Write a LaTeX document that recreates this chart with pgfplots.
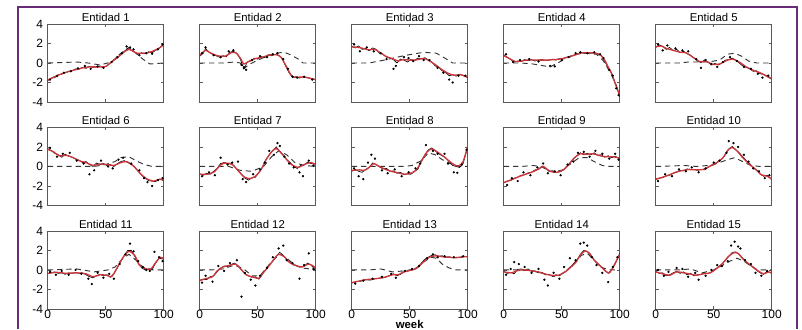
\documentclass[border=0pt]{standalone}
\usepackage{pgfplots}
\pgfplotsset{compat=1.18}
\usepgfplotslibrary{groupplots}
\usetikzlibrary{calc}
\usepackage{fontspec}
\setmainfont{Liberation Sans}
\definecolor{fitred}{RGB}{205,55,60}
\definecolor{framecol}{RGB}{105,45,120}
\pgfplotsset{
  dsh/.style={no markers, black!80, line width=0.7pt, dash pattern=on 4pt off 3pt},
  dts/.style={only marks, mark=*, mark size=0.65pt, mark options={fill=black, draw=black}},
  blk/.style={no markers, black, line width=0.5pt},
  rd/.style={no markers, fitred, line width=1pt, smooth, tension=0.45},
}
\begin{document}
\begin{tikzpicture}
\begin{groupplot}[
  group style={group size=5 by 3, horizontal sep=27pt, vertical sep=19.1pt,
    xticklabels at=edge bottom, yticklabels at=edge left},
  scale only axis, width=87pt, height=58.5pt,
  xmin=0, xmax=100, ymin=-4, ymax=4,
  xtick={0,50,100}, ytick={-4,-2,0,2,4},
  tick align=inside, major tick length=2.2pt,
  axis line style={black!65, line width=0.5pt},
  every tick/.style={black!65, line width=0.4pt},
  tick label style={font=\fontsize{9}{10}\selectfont, /pgf/number format/assume math mode=true},
  xticklabel style={inner sep=0.6pt},
  title style={font=\fontsize{8.5}{10}\selectfont, yshift=-7.5pt},
  clip=true,
]
% ---------- 1
\nextgroupplot[title={Entidad 1}]
\addplot[dsh] coordinates {(0,0)(25,0.1)(35,0)(45,-0.2)(55,0.1)(62,0.9)(70,1.6)(75,1.1)(82,0.4)(88,-0.1)(100,0)};
\addplot[dts] coordinates {(2,-1.7)(8,-1.35)(14,-1.0)(20,-0.85)(26,-0.55)(32,-0.3)(37,-0.6)(43,-0.35)(48,-0.5)(55,0.1)(60,0.6)(64,1.0)(68,1.7)(71,1.6)(74,1.4)(79,0.8)(85,1.0)(90,0.95)(95,1.4)(99,1.9)};
\addplot[blk] coordinates {(0,-1.8)(3,-1.55)(6,-1.5)(9,-1.2)(12,-1.15)(15,-1.0)(18,-0.85)(21,-0.8)(24,-0.6)(27,-0.65)(30,-0.45)(33,-0.55)(36,-0.35)(39,-0.45)(42,-0.4)(45,-0.3)(48,-0.45)(51,-0.3)(54,0.0)(57,0.3)(60,0.5)(63,0.9)(66,1.2)(69,1.5)(72,1.3)(75,1.1)(78,0.9)(81,1.05)(84,0.95)(87,1.15)(90,1.05)(93,1.3)(96,1.5)(100,1.95)};
\addplot[rd] coordinates {(0,-1.75)(5,-1.45)(10,-1.2)(16,-0.95)(22,-0.75)(30,-0.5)(36,-0.4)(45,-0.4)(50,-0.35)(56,0.2)(62,0.75)(66,1.15)(70,1.4)(73,1.25)(77,1.0)(82,1.0)(88,1.1)(93,1.35)(97,1.6)(100,1.9)};
% ---------- 2
\nextgroupplot[title={Entidad 2}]
\addplot[dsh] coordinates {(0,0)(20,0)(30,0.1)(35,0)(38,-0.6)(42,-0.2)(50,0.3)(60,0.8)(65,1.0)(73,1.1)(79,0.8)(85,0.4)(89,0)(100,0)};
\addplot[dts] coordinates {(2,1.0)(5,1.6)(12,0.8)(18,0.6)(25,1.2)(29,1.3)(36,-0.2)(38,-0.5)(40,-0.7)(45,0.3)(52,0.7)(58,0.6)(63,0.9)(67,1.0)(72,0.4)(76,-0.6)(80,-1.4)(84,-1.5)(90,-1.4)(97,-1.7)};
\addplot[blk] coordinates {(0,0.7)(3,1.0)(5,1.5)(8,1.1)(11,0.9)(14,0.75)(17,0.6)(20,0.75)(23,0.65)(26,1.1)(29,1.2)(32,1.0)(35,0.4)(37,-0.3)(39,-0.4)(41,0.1)(44,0.2)(47,0.5)(50,0.4)(53,0.65)(56,0.55)(59,0.85)(62,0.75)(65,0.9)(68,0.8)(71,0.5)(74,-0.3)(77,-1.0)(80,-1.5)(83,-1.4)(86,-1.55)(89,-1.4)(92,-1.5)(95,-1.55)(98,-1.65)(100,-1.75)};
\addplot[rd] coordinates {(0,0.8)(5,1.3)(9,1.05)(15,0.75)(22,0.7)(27,1.05)(31,1.05)(35,0.5)(38,-0.1)(42,0.15)(48,0.45)(54,0.6)(60,0.8)(66,0.85)(70,0.6)(74,-0.2)(78,-1.1)(81,-1.45)(86,-1.45)(91,-1.45)(96,-1.6)(100,-1.7)};
% ---------- 3
\nextgroupplot[title={Entidad 3}]
\addplot[dsh] coordinates {(0,0)(15,0)(28,0.3)(47,0.8)(62,1.1)(73,1.0)(81,0.45)(87,0)(100,0)};
\addplot[dts] coordinates {(2,1.9)(7,1.2)(13,1.6)(19,1.2)(25,1.0)(30,0.4)(36,-0.6)(38,-0.3)(45,0.6)(49,0.5)(53,0.2)(58,0.7)(62,0.3)(67,0.3)(74,-0.5)(79,-1.0)(84,-1.7)(87,-2.0)(92,-1.3)(98,-1.3)};
\addplot[blk] coordinates {(0,1.7)(3,1.55)(6,1.75)(9,1.4)(12,1.5)(15,1.25)(18,1.55)(21,1.4)(24,1.0)(27,0.9)(30,0.6)(33,0.5)(36,0.35)(39,0.0)(42,0.4)(45,0.3)(48,0.1)(51,0.35)(54,0.25)(57,0.5)(60,0.4)(63,0.55)(66,0.3)(69,0.1)(72,-0.3)(75,-0.45)(78,-0.8)(81,-1.0)(84,-1.3)(87,-1.2)(90,-1.35)(93,-1.15)(96,-1.3)(100,-1.5)};
\addplot[rd] coordinates {(0,1.65)(6,1.6)(11,1.45)(15,1.35)(20,1.4)(24,1.1)(30,0.65)(35,0.45)(40,0.2)(44,0.35)(50,0.3)(55,0.3)(60,0.45)(64,0.4)(68,0.15)(73,-0.25)(78,-0.7)(83,-1.05)(88,-1.25)(94,-1.2)(100,-1.45)};
% ---------- 4
\nextgroupplot[title={Entidad 4}]
\addplot[dsh] coordinates {(0,0)(15,0)(25,-0.1)(35,-0.3)(40,-0.4)(48,0.1)(55,0.6)(62,0.9)(70,1.0)(80,0.9)(86,0.2)(92,-1.0)(97,-2.3)(100,-3.4)};
\addplot[dts] coordinates {(2,0.9)(8,0.1)(14,0.3)(22,0.4)(30,0.15)(40,-0.3)(44,-0.35)(50,0.3)(56,0.6)(62,1.0)(66,1.1)(72,1.0)(78,1.1)(83,0.9)(86,0.5)(91,-0.7)(94,-1.3)(97,-2.6)(99,-3.3)};
\addplot[blk] coordinates {(0,0.85)(3,0.6)(6,0.35)(9,0.1)(12,0.2)(15,0.15)(18,0.35)(21,0.25)(24,0.35)(27,0.2)(30,0.3)(33,0.35)(36,0.25)(39,0.3)(42,0.4)(45,0.3)(48,0.45)(51,0.4)(54,0.6)(57,0.6)(60,0.8)(63,0.85)(66,1.1)(69,1.0)(72,1.1)(75,1.0)(78,1.05)(81,0.9)(84,0.8)(87,0.2)(90,-0.5)(93,-1.0)(95,-1.8)(97,-2.3)(99,-3.1)(100,-3.5)};
\addplot[rd] coordinates {(0,0.75)(5,0.45)(10,0.15)(15,0.2)(20,0.3)(28,0.3)(37,0.3)(48,0.4)(57,0.65)(63,0.9)(68,1.05)(74,1.05)(80,1.0)(84,0.75)(87,0.3)(90,-0.4)(93,-1.1)(95,-1.7)(97,-2.4)(99,-3.0)(100,-3.4)};
% ---------- 5
\nextgroupplot[title={Entidad 5}]
\addplot[dsh] coordinates {(0,0)(12,0)(20,0)(28,0.1)(38,0.1)(45,0.1)(55,0.3)(62,0.9)(68,1.0)(74,0.7)(80,0.2)(87,0)(100,0)};
\addplot[dts] coordinates {(2,1.9)(6,1.3)(10,1.8)(17,1.5)(23,1.3)(28,1.2)(35,0.4)(39,-0.5)(43,0.3)(48,-0.1)(53,-0.4)(58,0.1)(64,0.6)(70,0.2)(76,-0.4)(82,-0.6)(88,-1.1)(92,-1.5)(97,-1.3)};
\addplot[blk] coordinates {(0,1.6)(3,1.85)(6,1.7)(9,1.4)(12,1.6)(15,1.25)(18,1.4)(21,1.05)(24,1.2)(27,0.95)(30,0.8)(33,0.5)(36,0.2)(39,0.05)(42,0.3)(45,0.1)(48,-0.2)(51,-0.05)(54,-0.2)(57,0.0)(60,0.3)(63,0.35)(66,0.5)(69,0.3)(72,0.0)(75,-0.3)(78,-0.45)(81,-0.6)(84,-0.85)(87,-0.8)(90,-1.1)(93,-1.15)(96,-1.4)(100,-1.65)};
\addplot[rd] coordinates {(0,1.65)(5,1.75)(9,1.5)(15,1.3)(21,1.1)(26,1.05)(32,0.6)(38,0.15)(44,0.15)(49,-0.15)(55,-0.1)(61,0.25)(66,0.4)(72,0.1)(78,-0.4)(84,-0.75)(90,-1.0)(95,-1.3)(100,-1.6)};
% ---------- 6
\nextgroupplot[title={Entidad 6}]
\addplot[dsh] coordinates {(0,0)(30,0)(40,0)(50,0.2)(58,0.5)(63,0.9)(70,1.0)(76,0.6)(83,0.2)(90,0)(100,0)};
\addplot[dts] coordinates {(2,1.9)(8,1.0)(13,1.3)(19,1.4)(25,0.6)(31,0.3)(36,-0.8)(40,-0.4)(46,0.6)(52,0.0)(56,-0.2)(61,0.7)(65,0.9)(72,0.3)(79,-0.4)(83,-1.2)(86,-1.6)(90,-2.0)(95,-1.4)(99,-1.2)};
\addplot[blk] coordinates {(0,1.8)(3,1.65)(6,1.35)(9,1.2)(12,0.95)(15,1.25)(18,1.05)(21,0.95)(24,0.75)(27,0.65)(30,0.4)(33,0.5)(36,0.2)(39,0.0)(42,0.35)(45,0.2)(48,0.3)(51,0.1)(54,0.2)(57,0.0)(60,0.3)(63,0.5)(66,0.6)(69,0.4)(72,0.2)(75,-0.1)(78,-0.5)(81,-0.9)(84,-1.2)(87,-1.45)(90,-1.5)(93,-1.55)(96,-1.3)(100,-1.45)};
\addplot[rd] coordinates {(0,1.75)(5,1.5)(10,1.1)(16,1.15)(22,0.9)(28,0.55)(34,0.35)(39,0.1)(45,0.25)(51,0.2)(57,0.1)(62,0.35)(68,0.5)(74,0.05)(80,-0.75)(85,-1.25)(91,-1.5)(97,-1.3)(100,-1.4)};
% ---------- 7
\nextgroupplot[title={Entidad 7}]
\addplot[dsh] coordinates {(0,0)(15,0)(25,0)(35,-0.4)(45,-0.5)(55,0)(62,1.0)(68,1.6)(75,1.2)(82,0.4)(90,0.1)(100,0)};
\addplot[dts] coordinates {(2,-1.0)(8,-0.6)(13,-0.9)(18,0.9)(24,0.2)(28,0.4)(33,0.5)(37,-1.3)(40,-1.6)(46,-0.8)(52,-0.3)(56,0.4)(60,1.6)(64,1.2)(67,2.4)(69,2.1)(73,1.0)(77,0.3)(81,-0.1)(86,-0.6)(89,-1.0)(94,0.6)(98,0.1)};
\addplot[blk] coordinates {(0,-0.75)(3,-0.9)(6,-0.7)(9,-0.8)(12,-0.5)(15,-0.2)(18,0.3)(21,0.4)(24,0.3)(27,0.35)(30,0.0)(33,-0.4)(36,-0.8)(39,-1.2)(42,-1.4)(45,-1.15)(48,-1.1)(51,-0.6)(54,-0.1)(57,0.7)(60,1.2)(63,1.65)(66,2.0)(69,1.55)(72,1.2)(75,0.7)(78,0.4)(81,0.0)(84,-0.2)(87,0.1)(90,0.15)(93,0.45)(96,0.3)(100,0.25)};
\addplot[rd] coordinates {(0,-0.8)(6,-0.8)(12,-0.6)(18,0.15)(22,0.35)(28,0.2)(34,-0.55)(38,-1.05)(43,-1.25)(48,-1.0)(53,-0.3)(57,0.65)(62,1.5)(66,1.85)(70,1.4)(75,0.7)(79,0.2)(85,-0.1)(90,0.2)(96,0.4)(100,0.2)};
% ---------- 8
\nextgroupplot[title={Entidad 8}]
\addplot[dsh] coordinates {(0,0)(30,0)(45,0)(52,0.1)(60,0.6)(66,1.4)(72,1.2)(78,0.7)(85,0.3)(92,0)(100,0)};
\addplot[dts] coordinates {(2,-0.2)(6,-1.0)(10,-1.3)(14,0.4)(17,1.2)(20,0.8)(26,-0.4)(31,-0.7)(37,-0.3)(43,-1.0)(49,-0.6)(55,-0.2)(59,0.3)(64,2.2)(70,1.6)(74,1.3)(80,1.3)(83,0.3)(88,-0.6)(91,-0.65)(95,0.2)(99,1.7)};
\addplot[blk] coordinates {(0,-0.5)(3,-0.3)(6,-0.5)(9,-0.6)(12,-0.3)(15,-0.1)(18,0.35)(21,0.2)(24,-0.05)(27,-0.25)(30,-0.2)(33,-0.5)(36,-0.45)(39,-0.7)(42,-0.6)(45,-0.85)(48,-0.75)(51,-0.8)(54,-0.5)(57,-0.3)(60,0.6)(63,1.2)(66,1.7)(69,1.9)(72,1.6)(75,1.3)(78,1.1)(81,0.9)(84,0.5)(87,0.1)(90,0.0)(93,-0.1)(96,0.3)(100,2.0)};
\addplot[rd] coordinates {(0,-0.4)(7,-0.35)(11,-0.4)(15,-0.1)(19,0.3)(23,0.05)(29,-0.3)(34,-0.5)(40,-0.65)(46,-0.8)(52,-0.65)(56,-0.3)(60,0.5)(65,1.5)(69,1.8)(73,1.55)(79,1.05)(84,0.55)(88,0.2)(92,0.05)(96,0.5)(100,2.1)};
% ---------- 9
\nextgroupplot[title={Entidad 9}]
\addplot[dsh] coordinates {(0,0)(15,0)(25,0.1)(32,0)(40,-0.5)(50,-0.4)(58,0.3)(65,0.9)(72,0.9)(78,0.5)(85,0.1)(90,0)(100,0)};
\addplot[dts] coordinates {(3,-1.9)(7,-1.2)(12,-1.5)(17,-0.6)(23,-0.9)(29,-0.1)(34,0.3)(38,-0.7)(44,-0.5)(49,-0.9)(55,0.2)(60,0.5)(64,1.4)(69,1.5)(74,1.0)(79,1.6)(85,1.3)(91,0.8)(96,1.3)(99,0.7)};
\addplot[blk] coordinates {(0,-1.7)(3,-1.5)(6,-1.45)(9,-1.2)(12,-1.1)(15,-0.9)(18,-0.85)(21,-0.65)(24,-0.6)(27,-0.35)(30,-0.3)(33,0.05)(36,-0.15)(39,-0.5)(42,-0.45)(45,-0.65)(48,-0.55)(51,-0.4)(54,0.0)(57,0.3)(60,0.8)(63,1.1)(66,1.4)(69,1.2)(72,1.35)(75,1.2)(78,1.4)(81,1.15)(84,1.2)(87,0.95)(90,1.1)(93,0.9)(96,1.05)(100,0.8)};
\addplot[rd] coordinates {(0,-1.65)(8,-1.3)(14,-1.0)(20,-0.75)(26,-0.5)(31,-0.2)(34,0.0)(40,-0.5)(46,-0.6)(52,-0.3)(57,0.35)(61,0.9)(66,1.3)(71,1.25)(77,1.3)(83,1.1)(88,1.0)(94,1.0)(100,0.85)};
% ---------- 10
\nextgroupplot[title={Entidad 10}]
\addplot[dsh] coordinates {(0,0)(25,0.1)(35,0)(45,0.1)(55,0.4)(62,0.7)(68,0.9)(75,0.5)(82,0.1)(90,0)(100,0)};
\addplot[dts] coordinates {(2,-1.5)(8,-0.8)(14,-1.0)(20,-0.3)(26,-0.5)(31,-0.1)(37,-0.6)(43,-0.2)(50,0.4)(55,0.6)(61,1.4)(63,2.6)(67,2.4)(71,2.0)(76,1.2)(80,0.5)(84,-0.2)(89,-0.5)(94,-1.2)(98,-0.9)};
\addplot[blk] coordinates {(0,-1.35)(3,-1.2)(6,-1.15)(9,-0.95)(12,-0.9)(15,-0.7)(18,-0.6)(21,-0.4)(24,-0.45)(27,-0.25)(30,-0.35)(33,-0.3)(36,-0.4)(39,-0.3)(42,-0.35)(45,-0.1)(48,0.1)(51,0.2)(54,0.5)(57,0.75)(60,1.2)(63,1.8)(66,2.05)(69,1.7)(72,1.4)(75,1.0)(78,0.6)(81,0.3)(84,-0.1)(87,-0.35)(90,-0.8)(93,-1.0)(96,-0.9)(100,-1.35)};
\addplot[rd] coordinates {(0,-1.3)(6,-1.1)(12,-0.85)(18,-0.55)(24,-0.4)(29,-0.3)(35,-0.35)(41,-0.3)(47,0.05)(52,0.35)(58,0.9)(62,1.65)(66,1.95)(70,1.6)(75,0.9)(81,0.2)(87,-0.4)(91,-0.85)(96,-1.0)(100,-1.3)};
% ---------- 11
\nextgroupplot[title={Entidad 11}]
\addplot[dsh] coordinates {(0,0)(25,0.1)(40,-0.2)(52,0)(58,0.3)(65,1.2)(70,1.6)(76,1.0)(82,0.3)(90,0)(100,0)};
\addplot[dts] coordinates {(2,-0.2)(7,-0.5)(12,-0.1)(18,-0.5)(24,0.0)(29,-0.4)(35,-0.9)(38,-1.45)(43,-0.3)(48,-0.8)(53,-0.4)(57,-0.9)(62,0.6)(67,1.6)(71,2.7)(74,1.9)(78,0.9)(82,0.3)(85,0.0)(88,-0.1)(92,1.85)(96,1.3)(99,0.9)};
\addplot[blk] coordinates {(0,-0.4)(3,-0.3)(6,-0.2)(9,-0.35)(12,-0.3)(15,-0.45)(18,-0.3)(21,-0.35)(24,-0.25)(27,-0.35)(30,-0.3)(33,-0.5)(36,-0.7)(39,-0.8)(42,-0.6)(45,-0.45)(48,-0.6)(51,-0.5)(54,-0.75)(57,-0.4)(60,0.2)(63,0.9)(66,1.5)(69,2.0)(72,2.0)(75,1.4)(78,0.7)(81,0.2)(84,0.0)(87,0.1)(90,0.05)(93,0.7)(96,1.2)(100,1.1)};
\addplot[rd] coordinates {(0,-0.35)(8,-0.25)(16,-0.35)(25,-0.3)(33,-0.4)(39,-0.7)(45,-0.5)(51,-0.55)(55,-0.7)(59,0.05)(65,1.3)(70,1.9)(75,1.5)(79,0.5)(85,0.1)(89,0.1)(93,0.75)(97,1.3)(100,1.15)};
% ---------- 12
\nextgroupplot[title={Entidad 12}]
\addplot[dsh] coordinates {(0,0)(10,0)(20,0.1)(30,0.5)(38,0.1)(45,-0.6)(52,-0.6)(58,0.3)(65,1.2)(70,1.6)(76,1.1)(82,0.5)(88,0.2)(95,0.1)(100,0)};
\addplot[dts] coordinates {(2,-1.3)(5,-0.6)(11,-1.2)(16,0.4)(21,-0.1)(26,0.7)(32,1.0)(36,-2.75)(39,-0.3)(44,-1.0)(48,-1.6)(52,-0.6)(58,0.2)(63,1.3)(68,2.2)(72,2.5)(75,1.0)(80,0.7)(86,-0.9)(90,0.5)(94,1.7)(98,0.1)};
\addplot[blk] coordinates {(0,-1.05)(3,-0.95)(6,-1.0)(9,-0.7)(12,-0.6)(15,-0.2)(18,0.2)(21,0.4)(24,0.35)(27,0.55)(30,0.7)(33,0.4)(36,0.0)(39,-0.4)(42,-0.6)(45,-0.75)(48,-0.7)(51,-0.95)(54,-0.4)(57,0.0)(60,0.5)(63,0.9)(66,1.4)(69,1.8)(72,1.5)(75,1.0)(78,0.75)(81,0.5)(84,0.4)(87,0.3)(90,0.35)(93,0.7)(96,0.5)(100,-0.05)};
\addplot[rd] coordinates {(0,-1.1)(5,-0.9)(11,-0.7)(15,-0.1)(20,0.3)(25,0.45)(31,0.6)(35,0.15)(40,-0.5)(45,-0.7)(51,-0.85)(55,-0.25)(60,0.45)(64,1.1)(68,1.6)(73,1.35)(77,0.8)(83,0.45)(88,0.3)(94,0.6)(99,0.3)(100,0.0)};
% ---------- 13
\nextgroupplot[title={Entidad 13}, xlabel={week}, xlabel style={font=\fontsize{8.5}{9}\selectfont\bfseries, inner sep=0.3pt}]
\addplot[dsh] coordinates {(0,0)(15,0)(25,0.1)(35,-0.2)(45,-0.1)(55,0.1)(62,0.8)(68,1.3)(73,1.2)(78,0.6)(84,0.2)(90,0)(100,0)};
\addplot[dts] coordinates {(3,-1.4)(10,-1.1)(18,-0.9)(26,-0.7)(34,-0.4)(38,-0.8)(46,-0.1)(52,0.1)(58,0.4)(65,1.2)(70,1.6)(74,1.3)(80,1.4)(88,1.3)(96,1.4)};
\addplot[blk] coordinates {(0,-1.35)(4,-1.2)(8,-1.15)(12,-1.0)(16,-1.05)(20,-0.9)(24,-0.85)(28,-0.8)(32,-0.6)(36,-0.4)(39,-0.6)(42,-0.45)(45,-0.2)(49,-0.1)(53,0.05)(57,0.3)(60,0.7)(63,1.1)(66,1.3)(69,1.5)(72,1.55)(75,1.4)(78,1.45)(81,1.3)(84,1.35)(87,1.25)(90,1.3)(94,1.25)(97,1.4)(100,1.35)};
\addplot[rd] coordinates {(0,-1.3)(6,-1.15)(12,-1.0)(21,-0.9)(30,-0.7)(35,-0.5)(40,-0.5)(44,-0.25)(50,-0.05)(55,0.1)(60,0.6)(64,1.1)(68,1.35)(73,1.45)(78,1.35)(84,1.3)(90,1.25)(95,1.35)(100,1.35)};
% ---------- 14
\nextgroupplot[title={Entidad 14}]
\addplot[dsh] coordinates {(0,0)(15,0)(25,-0.1)(38,-0.5)(45,-0.7)(52,-0.3)(60,0.6)(67,1.5)(72,1.7)(78,1.0)(84,0.3)(90,0)(100,0)};
\addplot[dts] coordinates {(2,-0.5)(6,0.1)(9,0.8)(13,0.6)(18,0.3)(24,-0.3)(30,0.1)(35,-1.0)(38,-1.6)(43,-0.3)(48,-0.9)(52,0.3)(57,1.2)(62,1.0)(66,2.7)(69,2.8)(72,2.5)(76,1.3)(80,0.5)(85,-0.3)(90,-1.25)(94,0.3)(98,1.3)};
\addplot[blk] coordinates {(0,-0.15)(3,-0.35)(6,-0.25)(9,-0.4)(12,0.05)(15,0.1)(18,-0.05)(21,0.1)(24,-0.15)(27,-0.1)(30,-0.3)(33,-0.25)(36,-0.5)(39,-0.45)(42,-0.65)(45,-0.5)(48,-0.6)(51,-0.3)(54,-0.1)(57,0.25)(60,0.6)(63,1.0)(66,1.6)(69,2.0)(72,1.9)(75,1.5)(78,1.0)(81,0.6)(84,0.3)(87,0.0)(90,-0.35)(93,0.0)(96,0.6)(100,1.7)};
\addplot[rd] coordinates {(0,-0.2)(7,-0.3)(12,-0.05)(18,0.0)(24,-0.1)(30,-0.2)(35,-0.4)(41,-0.55)(47,-0.55)(53,-0.2)(58,0.3)(62,0.75)(66,1.5)(70,1.95)(74,1.7)(78,1.0)(83,0.45)(87,-0.05)(91,-0.3)(95,0.45)(100,1.6)};
% ---------- 15
\nextgroupplot[title={Entidad 15}]
\addplot[dsh] coordinates {(0,0)(20,0)(30,0.1)(40,-0.3)(50,0)(58,0.5)(64,0.9)(70,1.2)(76,0.9)(82,0.4)(88,0)(100,0)};
\addplot[dts] coordinates {(2,0.0)(7,-0.6)(11,-0.2)(18,0.2)(23,0.1)(28,-0.7)(34,-0.3)(37,-1.0)(43,-0.6)(48,0.0)(53,0.5)(57,0.4)(62,0.9)(65,2.5)(68,2.9)(71,2.4)(73,2.2)(77,1.0)(82,0.6)(86,-0.3)(91,-0.6)(96,-0.1)};
\addplot[blk] coordinates {(0,-0.15)(3,-0.35)(6,-0.3)(9,-0.6)(12,-0.5)(15,-0.3)(18,-0.15)(21,-0.35)(24,-0.2)(27,-0.5)(30,-0.35)(33,-0.6)(36,-0.5)(39,-0.45)(42,-0.3)(45,-0.4)(48,-0.2)(51,0.05)(54,0.3)(57,0.6)(60,1.0)(63,1.4)(66,1.8)(69,1.85)(72,1.6)(75,1.2)(78,0.8)(81,0.5)(84,0.3)(87,-0.05)(90,-0.3)(93,-0.45)(96,-0.15)(100,-0.35)};
\addplot[rd] coordinates {(0,-0.2)(6,-0.4)(12,-0.55)(18,-0.2)(24,-0.3)(29,-0.4)(35,-0.55)(41,-0.4)(47,-0.3)(52,0.1)(58,0.7)(62,1.3)(67,1.75)(71,1.7)(75,1.15)(81,0.55)(87,0.0)(93,-0.4)(97,-0.2)(100,-0.3)};
\end{groupplot}
\coordinate (O) at ($(group c1r1.north west)+(-35.8pt,18pt)$);
\draw[framecol, line width=2pt] ($(O)+(13.5pt,-246.75pt)$) -- ($(O)+(13.5pt,-5.25pt)$) -- ($(O)+(597.75pt,-5.25pt)$) -- ($(O)+(597.75pt,-246.75pt)$);
\pgfresetboundingbox
\path[use as bounding box] (O) rectangle ++(601.5pt,-246.75pt);
\end{tikzpicture}
\end{document}
